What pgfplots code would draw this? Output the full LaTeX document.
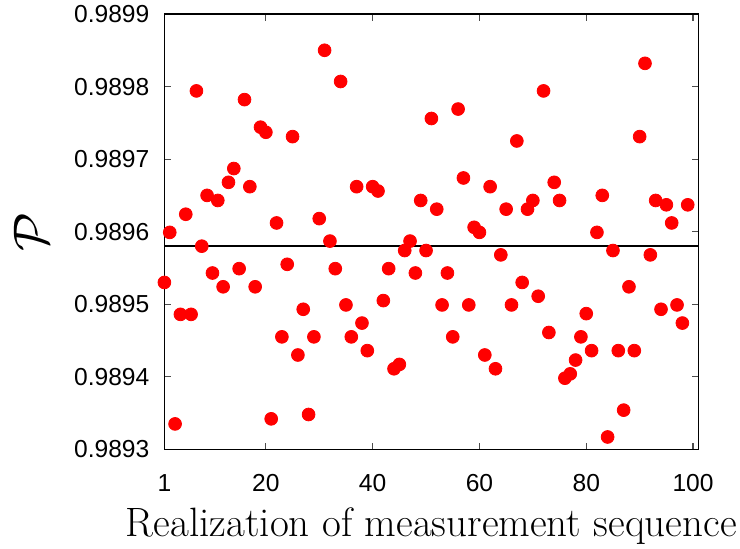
\documentclass[border=0pt]{standalone}
\usepackage{graphicx}
\usepackage{pgfplots}
\pgfplotsset{compat=1.18}
\usepackage{pgfplotstable}
\usepackage{fontspec}
\newfontfamily\ticksans{Liberation Sans}

% one realization per row: index, purity
\pgfplotstableread{
n P
1 0.989530
2 0.989599
3 0.989335
4 0.989486
5 0.989624
6 0.989486
7 0.989794
8 0.989580
9 0.989650
10 0.989543
11 0.989643
12 0.989524
13 0.989668
14 0.989687
15 0.989549
16 0.989782
17 0.989662
18 0.989524
19 0.989744
20 0.989737
21 0.989342
22 0.989612
23 0.989455
24 0.989555
25 0.989731
26 0.989430
27 0.989493
28 0.989348
29 0.989455
30 0.989618
31 0.989850
32 0.989587
33 0.989549
34 0.989807
35 0.989499
36 0.989455
37 0.989662
38 0.989474
39 0.989436
40 0.989662
41 0.989656
42 0.989505
43 0.989549
44 0.989411
45 0.989417
46 0.989574
47 0.989587
48 0.989543
49 0.989643
50 0.989574
51 0.989756
52 0.989631
53 0.989499
54 0.989543
55 0.989455
56 0.989769
57 0.989674
58 0.989499
59 0.989606
60 0.989599
61 0.989430
62 0.989662
63 0.989411
64 0.989568
65 0.989631
66 0.989499
67 0.989725
68 0.989530
69 0.989631
70 0.989643
71 0.989511
72 0.989794
73 0.989461
74 0.989668
75 0.989643
76 0.989398
77 0.989404
78 0.989423
79 0.989455
80 0.989487
81 0.989436
82 0.989599
83 0.989650
84 0.989317
85 0.989574
86 0.989436
87 0.989354
88 0.989524
89 0.989436
90 0.989731
91 0.989832
92 0.989568
93 0.989643
94 0.989493
95 0.989637
96 0.989612
97 0.989499
98 0.989474
99 0.989637
}\purity

\begin{document}
\begin{tikzpicture}
    \path[use as bounding box] (-82.2pt,-49.35pt) rectangle (287.8pt,224.65pt);
    \begin{axis}
        [
            scale only axis,
            width=267pt,
            height=217.65pt,
            xmin=1, xmax=101,
            ymin=0.9893, ymax=0.9899,
            xtick={1,20,40,60,80,100},
            xticklabels={1,20,40,60,80,100},
            ytick={0.9893,0.9894,0.9895,0.9896,0.9897,0.9898,0.9899},
            yticklabels={0.9893,0.9894,0.9895,0.9896,0.9897,0.9898,0.9899},
            tick align=inside,
            tick pos=both,
            minor tick num=0,
            major tick length=3.3pt,
            axis line style={black, line width=0.75pt},
            tick style={black!70, line width=0.6pt},
            ticklabel style={font=\fontsize{12.3}{12.3}\selectfont\ticksans},
            yticklabel style={xshift=-4pt},
            xticklabel style={yshift=-9pt},
            xlabel={Realization of measurement sequence},
            xlabel style={font=\fontsize{20.5}{20.5}\selectfont,
                at={(axis description cs:0.5,0)}, anchor=base, yshift=-43.35pt},
            ylabel={\scalebox{2.5}{$\mathcal{P}$}},
            ylabel style={at={(axis description cs:0,0.5)}, anchor=center, yshift=66.7pt},
        ]
        \addplot [red, only marks, mark=*, mark size=3.2pt, mark options={draw=red, fill=red}] table [x=n, y=P] {\purity};
        \addplot [black, line width=1pt] coordinates {(1,0.98958) (101,0.98958)};
    \end{axis}
\end{tikzpicture}
\end{document}
